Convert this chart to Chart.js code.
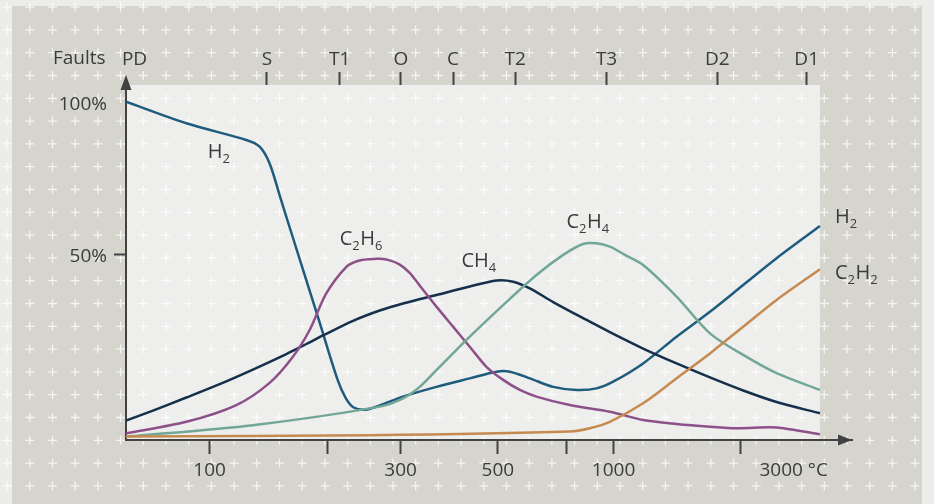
<!DOCTYPE html>
<html>
<head>
<meta charset="utf-8">
<script src="https://cdn.jsdelivr.net/npm/chart.js@4.4.1/dist/chart.umd.min.js"></script>
<style>
html,body{margin:0;padding:0;background:#ececea;overflow:hidden}
canvas{display:block}
</style>
</head>
<body>
<canvas id="c" width="934" height="504"></canvas>
<script>
// ---------- data (temperature in °C, relative gas amount in %) ----------
const h2Temp  = [62.1, 87.6, 123.3, 133.0, 140.8, 149.1, 157.8, 187.3, 207.6, 217.3, 227.4, 243.5, 263.8, 301.2, 364.4, 440.6, 513.2, 553.6, 620.4, 708.6, 809.9, 907.6, 997.7, 1183.5, 1432.3, 1732.2, 2094, 2533, 3243];
const h2Val   = [100.1, 93.0, 87.5, 85.3, 79.8, 69.3, 58.8, 27.4, 8.5, 2.6, -0.5, -1.2, 0.2, 3.1, 6.3, 9.1, 11.3, 11.3, 9.1, 6.3, 5.3, 5.8, 8.0, 14.0, 22.8, 31.0, 39.8, 48.6, 59.2];

const ch4Temp = [62.1, 72.4, 87.6, 105.9, 128.0, 154.9, 173.6, 190.9, 226.5, 263.8, 301.2, 364.4, 440.6, 513.2, 564.2, 620.4, 708.6, 857.4, 979.1, 1183.5, 1432.3, 1732.2, 2094, 2533, 3243];
const ch4Val  = [-4.8, -1.5, 2.8, 7.2, 12.0, 17.1, 20.4, 23.2, 28.0, 31.4, 33.7, 36.5, 39.3, 41.3, 40.9, 38.7, 34.2, 28.3, 24.3, 18.9, 14.0, 9.4, 5.1, 1.3, -2.4];

const c2h6Temp = [62.1, 87.6, 116.5, 140.8, 160.8, 176.9, 194.6, 218.1, 232.6, 249.1, 263.8, 279.2, 295.6, 312.9, 331.3, 364.4, 400.6, 440.6, 484.6, 532.9, 586.2, 644.5, 779.6, 979.1, 1183.5, 1432.3, 1732.2, 2017, 2439, 2631, 3243];
const c2h6Val  = [-9.0, -5.2, 0.3, 7.6, 16.2, 25.0, 37.1, 45.8, 47.7, 48.3, 48.4, 47.9, 46.5, 43.8, 39.6, 32.7, 26.1, 19.5, 12.9, 8.6, 5.3, 3.1, 0.3, -1.9, -4.6, -5.9, -6.8, -7.3, -7.0, -7.3, -9.3];

const c2h4Temp = [62.1, 128.0, 263.8, 301.2, 331.3, 364.4, 440.6, 532.9, 644.5, 750.4, 840.6, 907.6, 979.1, 1066.7, 1183.5, 1432.3, 1732.2, 2094, 2533, 3243];
const c2h4Val  = [-10.1, -6.3, -0.2, 2.5, 6.3, 11.8, 22.8, 33.2, 43.1, 49.7, 53.3, 53.5, 52.4, 49.7, 46.4, 36.0, 23.9, 16.8, 10.8, 5.3];

const c2h2Temp = [62.1, 249.1, 779.6, 873.6, 979.1, 1183.5, 1432.3, 1732.2, 2094, 2533, 3243];
const c2h2Val  = [-10.0, -9.6, -8.4, -7.3, -5.2, 0.9, 9.1, 17.3, 26.1, 34.9, 45.0];

// bottom temperature axis
const tempTicks  = [100, 196, 297, 517, 765, 1000, 2067, 2792];
const tempLabels = ['100', '', '300', '500', '', '1000', '', '3000 °C'];

// top fault axis
const faultTicks  = [65.2, 138.7, 210, 297.7, 400.6, 570.5, 961, 1806, 3007];
const faultLabels = ['PD', 'S', 'T1', 'O', 'C', 'T2', 'T3', 'D2', 'D1'];

// percent axis
const pctTicks  = [50, 100];
const pctLabels = ['50%', '100%'];

// curve name labels: [text, isSubscript] pieces, anchored at (temperature, percent)
const curveLabels = [
  {parts: [['H',0],['2',1]],               t: 98.9, v: 81.6},
  {parts: [['C',0],['2',1],['H',0],['6',1]], t: 209.9, v: 53.0},
  {parts: [['CH',0],['4',1]],              t: 420.3, v: 45.8},
  {parts: [['C',0],['2',1],['H',0],['4',1]], t: 764.8, v: 58.6},
  {parts: [['H',0],['2',1]],               t: 3533, v: 60.2},
  {parts: [['C',0],['2',1],['H',0],['2',1]], t: 3533, v: 41.8}
];

const TEXT = '#3b3b3b';
const AXIS = '#424242';
const FONT = '"Open Sans", "Noto Sans", sans-serif';

function pts(t, v) { return t.map((x, i) => ({x: x, y: v[i]})); }

const bgPlugin = {
  id: 'bg',
  beforeDraw(chart) {
    const ctx = chart.ctx, W = chart.width, H = chart.height;
    const ca = chart.chartArea, xs = chart.scales.x;
    ctx.save();
    ctx.fillStyle = '#ecece9';
    ctx.fillRect(0, 0, W, H);
    ctx.fillStyle = '#d5d4cd';
    ctx.fillRect(12, 6, 910, H - 6);
    const pr = xs.getPixelForValue(h2Temp[h2Temp.length - 1]);
    ctx.fillStyle = '#eeeeed';
    ctx.fillRect(ca.left, ca.top, pr - ca.left, ca.bottom - ca.top);
    ctx.strokeStyle = 'rgba(255,255,255,0.75)';
    ctx.lineWidth = 1.3;
    ctx.beginPath();
    for (let x = 7.1; x < W; x += 22.7) {
      for (let y = 7.1; y < H; y += 22.8) {
        ctx.moveTo(x - 4.5, y); ctx.lineTo(x + 4.5, y);
        ctx.moveTo(x, y - 4.5); ctx.lineTo(x, y + 4.5);
      }
    }
    ctx.stroke();
    ctx.restore();
  },
  afterDraw(chart) {
    const ctx = chart.ctx, ca = chart.chartArea;
    const xs = chart.scales.x, ys = chart.scales.y;
    ctx.save();
    // axis arrows
    ctx.strokeStyle = AXIS; ctx.fillStyle = AXIS; ctx.lineWidth = 2;
    ctx.beginPath(); ctx.moveTo(ca.left, ca.top + 1); ctx.lineTo(ca.left, ca.top - 6); ctx.stroke();
    ctx.beginPath();
    ctx.moveTo(ca.left, ca.top - 10);
    ctx.lineTo(ca.left - 5.5, ca.top + 5);
    ctx.lineTo(ca.left + 5.5, ca.top + 5);
    ctx.closePath(); ctx.fill();
    ctx.beginPath();
    ctx.moveTo(ca.right, ca.bottom);
    ctx.lineTo(ca.right - 14, ca.bottom - 5.5);
    ctx.lineTo(ca.right - 14, ca.bottom + 5.5);
    ctx.closePath(); ctx.fill();
    // "Faults" heading of the top axis
    ctx.fillStyle = TEXT;
    ctx.font = '19px ' + FONT;
    ctx.textAlign = 'left'; ctx.textBaseline = 'middle';
    ctx.fillText('Faults', 53, 59);
    // curve labels
    ctx.textBaseline = 'alphabetic';
    curveLabels.forEach(l => {
      let x = xs.getPixelForValue(l.t);
      const y = ys.getPixelForValue(l.v);
      l.parts.forEach(p => {
        ctx.font = (p[1] ? '13px ' : '20px ') + FONT;
        ctx.fillText(p[0], x, p[1] ? y + 5 : y);
        x += ctx.measureText(p[0]).width + (p[1] ? 0.5 : 0);
      });
    });
    ctx.restore();
  }
};

const lineDs = (label, data, color) => ({
  label, data, borderColor: color, borderWidth: 2.5, pointRadius: 0,
  tension: 0.3, fill: false
});

new Chart(document.getElementById('c'), {
  type: 'line',
  data: {
    datasets: [
      lineDs('C2H2', pts(c2h2Temp, c2h2Val), '#c68a4f'),
      lineDs('C2H4', pts(c2h4Temp, c2h4Val), '#72a797'),
      lineDs('C2H6', pts(c2h6Temp, c2h6Val), '#8d5189'),
      lineDs('CH4',  pts(ch4Temp, ch4Val),   '#15304b'),
      lineDs('H2',   pts(h2Temp, h2Val),     '#1e5b7c')
    ]
  },
  options: {
    responsive: false,
    animation: false,
    devicePixelRatio: 1,
    layout: {padding: {left: 0, right: 82, top: 0, bottom: 0}},
    plugins: {legend: {display: false}, tooltip: {enabled: false}},
    scales: {
      x: {
        type: 'logarithmic', position: 'bottom', min: 62.1, max: 3893,
        afterBuildTicks: s => { s.ticks = tempTicks.map(v => ({value: v})); },
        afterFit: s => { s.height = 64; },
        ticks: {
          autoSkip: false, maxRotation: 0, padding: 5, color: TEXT,
          font: {family: FONT, size: 19},
          callback: (v, i) => tempLabels[i]
        },
        grid: {
          drawOnChartArea: false, drawTicks: true, tickLength: 14, tickWidth: 2,
          tickColor: c => (c.index === tempTicks.length - 1 ? 'rgba(0,0,0,0)' : AXIS)
        },
        border: {display: true, color: AXIS, width: 2}
      },
      x2: {
        type: 'logarithmic', position: 'top', min: 62.1, max: 3893,
        afterBuildTicks: s => { s.ticks = faultTicks.map(v => ({value: v})); },
        afterFit: s => { s.height = 85; },
        ticks: {
          autoSkip: false, maxRotation: 0, padding: 1, color: TEXT,
          font: {family: FONT, size: 19},
          callback: (v, i) => faultLabels[i]
        },
        grid: {
          drawOnChartArea: false, drawTicks: true, tickLength: 13, tickWidth: 2,
          tickColor: c => (c.index === 0 ? 'rgba(0,0,0,0)' : AXIS)
        },
        border: {display: false}
      },
      y: {
        type: 'linear', position: 'left', min: -11.18, max: 105.59,
        afterBuildTicks: s => { s.ticks = pctTicks.map(v => ({value: v})); },
        afterFit: s => { s.width = 126; },
        ticks: {
          padding: 7, labelOffset: 3, color: TEXT, font: {family: FONT, size: 19},
          callback: (v, i) => pctLabels[i]
        },
        grid: {
          drawOnChartArea: false, drawTicks: true, tickLength: 12, tickWidth: 2,
          tickColor: c => (c.tick && c.tick.value === 100 ? 'rgba(0,0,0,0)' : AXIS)
        },
        border: {display: true, color: AXIS, width: 2}
      }
    }
  },
  plugins: [bgPlugin]
});
</script>
</body>
</html>
